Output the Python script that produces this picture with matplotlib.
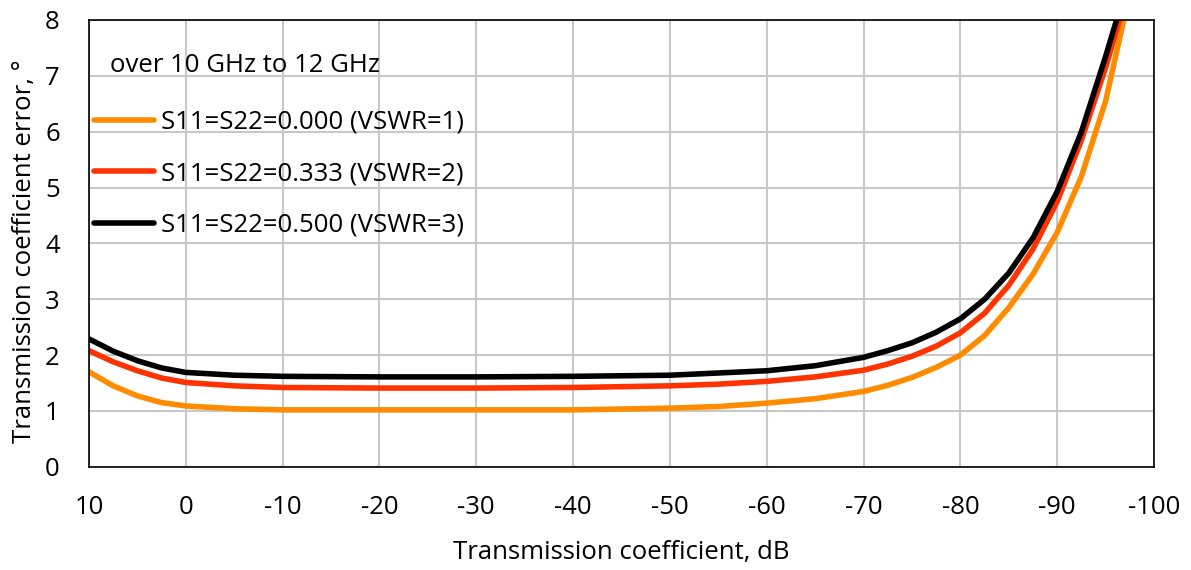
import matplotlib
matplotlib.use("Agg")
import matplotlib.pyplot as plt

plt.rcParams['font.family'] = ['Open Sans', 'DejaVu Sans']

x_db = [10, 7.5, 5, 2.5, 0, -5, -10, -20, -30, -40, -50, -55, -60, -65, -70, -72.5,
        -75, -77.5, -80, -82.5, -85, -87.5, -90, -92.5, -95]
err_vswr1 = [1.70, 1.45, 1.27, 1.15, 1.09, 1.04, 1.02, 1.02, 1.02, 1.02, 1.05, 1.08,
             1.14, 1.22, 1.35, 1.46, 1.60, 1.78, 2.00, 2.35, 2.85, 3.45, 4.20, 5.20, 6.55]
err_vswr2 = [2.08, 1.88, 1.72, 1.59, 1.51, 1.45, 1.42, 1.41, 1.41, 1.42, 1.45, 1.48,
             1.53, 1.61, 1.73, 1.84, 1.98, 2.16, 2.40, 2.75, 3.25, 3.90, 4.75, 5.85, 7.15]
err_vswr3 = [2.29, 2.07, 1.90, 1.77, 1.69, 1.64, 1.62, 1.61, 1.61, 1.62, 1.64, 1.68,
             1.72, 1.81, 1.96, 2.08, 2.22, 2.41, 2.65, 3.00, 3.47, 4.10, 4.93, 6.00, 7.35]
# final points beyond the top of the plot
end1 = (-97.0, 8.1)
end2 = (-96.6, 8.1)
end3 = (-96.3, 8.1)

labels = ['S11=S22=0.000 (VSWR=1)', 'S11=S22=0.333 (VSWR=2)', 'S11=S22=0.500 (VSWR=3)']
colors = ['#FF8C00', '#FF3300', '#000000']
xticks = [10, 0, -10, -20, -30, -40, -50, -60, -70, -80, -90, -100]
yticks = [0, 1, 2, 3, 4, 5, 6, 7, 8]

FS = 18.5

fig = plt.figure(figsize=(11.91, 5.70), dpi=100)
ax = fig.add_axes([0.0747, 0.181, 0.8943, 0.784])

for ys, end, lab, c in zip([err_vswr1, err_vswr2, err_vswr3], [end1, end2, end3], labels, colors):
    xs = list(x_db) + [end[0]]
    yv = list(ys) + [end[1]]
    ax.plot(xs, yv, color=c, lw=4.0, label=lab, solid_capstyle='round',
            solid_joinstyle='round')

ax.set_xlim(10, -100)
ax.set_ylim(0, 8)
ax.set_xticks(xticks)
ax.set_xticklabels([str(t) for t in xticks])
ax.set_yticks(yticks)
ax.grid(True, color='#C8C8C8', lw=1.5)
ax.set_axisbelow(True)
ax.tick_params(length=0, labelsize=FS)
ax.tick_params(axis='x', pad=20)
ax.tick_params(axis='y', pad=21)
for s in ax.spines.values():
    s.set_linewidth(1.2)
    s.set_color('black')

ax.set_xlabel('Transmission coefficient, dB', fontsize=FS, labelpad=15)
ax.set_ylabel('Transmission coefficient error, °', fontsize=FS, labelpad=6)
ax.yaxis.label.set_y(0.483)

ax.text(0.0195, 0.897, 'over 10 GHz to 12 GHz', transform=ax.transAxes,
        fontsize=FS, va='center', ha='left')
leg = ax.legend(loc='upper left', bbox_to_anchor=(0.0, 0.81), frameon=False,
                fontsize=FS, handlelength=2.35, handletextpad=0.25,
                labelspacing=1.03, borderaxespad=0.0, borderpad=0.2)

fig.savefig('out.png', dpi=100, facecolor='white')
